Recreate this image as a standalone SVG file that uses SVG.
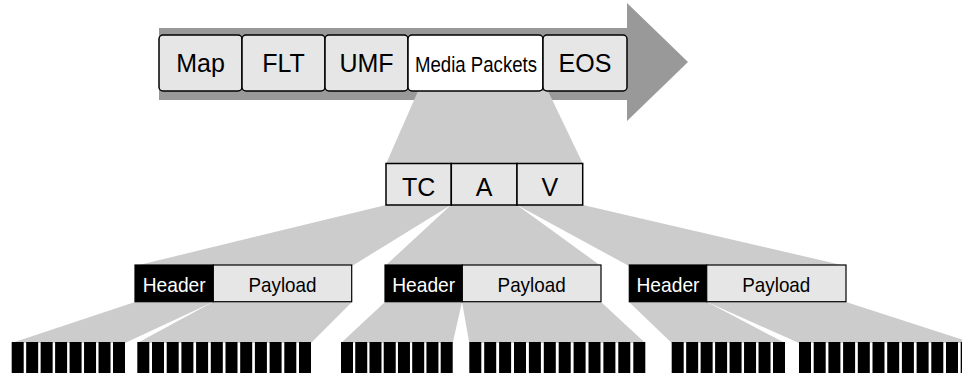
<svg xmlns="http://www.w3.org/2000/svg" width="962" height="373" viewBox="0 0 962 373">
  <style>
    .fan { fill: #cccccc; stroke: none; }
    .arrow { fill: #999999; stroke: none; }
    .seg { fill: #e6e6e6; stroke: #000; stroke-width: 1.5; }
    .segw { fill: #ffffff; stroke: #000; stroke-width: 1.5; }
    .cell { fill: #e6e6e6; stroke: #000; stroke-width: 1.5; }
    .hdr { fill: #000; stroke: #000; stroke-width: 1.2; }
    .pay { fill: #e6e6e6; stroke: #000; stroke-width: 1.2; }
    .bar { fill: #000; }
    text { font-family: "Liberation Sans", Arial, sans-serif; text-anchor: middle; fill: #000; }
    .big { font-size: 25px; }
    .mid { font-size: 21px; }
    .wt { fill: #fff; }
  </style>
  <g id="stream">
    <rect class="arrow" x="159" y="28" width="470" height="72"/>
    <polygon class="arrow" points="627,3 688,62 627,121"/>
  </g>
  <g id="connectors">
    <polygon class="fan" points="418,91 548,91 583,164 386,164"/>
    <polygon class="fan" points="386,205 451,205 352,266 135,266"/>
    <polygon class="fan" points="451,205 517,205 601,266 385,266"/>
    <polygon class="fan" points="517,205 583,205 846,266 629,266"/>
    <polygon class="fan" points="135,302 213,302 125,343 11.7,343"/>
    <polygon class="fan" points="213,302 352,302 311,343 137.3,343"/>
    <polygon class="fan" points="385,302 462,302 452.7,343 341,343"/>
    <polygon class="fan" points="462,302 601,302 645.3,343 469.3,343"/>
    <polygon class="fan" points="629,302 707,302 785,343 671.7,343"/>
    <polygon class="fan" points="707,302 846,302 972.7,343 799,343"/>
  </g>
  <g id="map"><rect class="seg" x="159" y="35" width="83" height="56" rx="4"/><text class="big" x="200.5" y="72">Map</text></g>
  <g id="flt"><rect class="seg" x="242" y="35" width="83" height="56" rx="4"/><text class="big" x="283.5" y="72">FLT</text></g>
  <g id="umf"><rect class="seg" x="325" y="35" width="83" height="56" rx="4"/><text class="big" x="366.5" y="72">UMF</text></g>
  <g id="media"><rect class="segw" x="408" y="35" width="135" height="56" rx="4"/><text x="476" y="71.5" font-size="22" textLength="122" lengthAdjust="spacingAndGlyphs">Media Packets</text></g>
  <g id="eos"><rect class="seg" x="543" y="35" width="84" height="56" rx="4"/><text class="big" x="585" y="72">EOS</text></g>
  <g id="tc"><rect class="cell" x="386" y="163.5" width="65.3" height="41.5"/><text class="big" x="418.6" y="196">TC</text></g>
  <g id="a"><rect class="cell" x="451.3" y="163.5" width="65.7" height="41.5"/><text class="big" x="484.2" y="196">A</text></g>
  <g id="v"><rect class="cell" x="517" y="163.5" width="65.7" height="41.5"/><text class="big" x="549.8" y="196">V</text></g>
  <g id="packet1">
    <rect class="hdr" x="135" y="265" width="78.3" height="36.7"/>
    <rect class="pay" x="213.3" y="265" width="138.4" height="36.7"/>
    <text class="mid wt" x="174.2" y="291.5" textLength="63" lengthAdjust="spacingAndGlyphs">Header</text>
    <text class="mid" x="282.5" y="291.5" textLength="68" lengthAdjust="spacingAndGlyphs">Payload</text>
  </g>
  <g id="packet2">
    <rect class="hdr" x="385" y="265" width="77.3" height="36.7"/>
    <rect class="pay" x="462.3" y="265" width="138.7" height="36.7"/>
    <text class="mid wt" x="423.7" y="291.5" textLength="63" lengthAdjust="spacingAndGlyphs">Header</text>
    <text class="mid" x="531.6" y="291.5" textLength="68" lengthAdjust="spacingAndGlyphs">Payload</text>
  </g>
  <g id="packet3">
    <rect class="hdr" x="629.3" y="265" width="77.4" height="36.7"/>
    <rect class="pay" x="706.7" y="265" width="139.3" height="36.7"/>
    <text class="mid wt" x="668" y="291.5" textLength="63" lengthAdjust="spacingAndGlyphs">Header</text>
    <text class="mid" x="776.3" y="291.5" textLength="68" lengthAdjust="spacingAndGlyphs">Payload</text>
  </g>
  <g id="bars1">
    <rect class="bar" x="11.7" y="342" width="12" height="31"/><rect class="bar" x="26.17" y="342" width="12" height="31"/><rect class="bar" x="40.64" y="342" width="12" height="31"/><rect class="bar" x="55.11" y="342" width="12" height="31"/><rect class="bar" x="69.58" y="342" width="12" height="31"/><rect class="bar" x="84.05" y="342" width="12" height="31"/><rect class="bar" x="98.52" y="342" width="12" height="31"/><rect class="bar" x="113" y="342" width="12" height="31"/>
  </g>
  <g id="bars2">
    <rect class="bar" x="137.3" y="342" width="12" height="31"/><rect class="bar" x="152" y="342" width="12" height="31"/><rect class="bar" x="166.7" y="342" width="12" height="31"/><rect class="bar" x="181.4" y="342" width="12" height="31"/><rect class="bar" x="196.1" y="342" width="12" height="31"/><rect class="bar" x="210.8" y="342" width="12" height="31"/><rect class="bar" x="225.5" y="342" width="12" height="31"/><rect class="bar" x="240.2" y="342" width="12" height="31"/><rect class="bar" x="254.9" y="342" width="12" height="31"/><rect class="bar" x="269.6" y="342" width="12" height="31"/><rect class="bar" x="284.3" y="342" width="12" height="31"/><rect class="bar" x="299" y="342" width="12" height="31"/>
  </g>
  <g id="bars3">
    <rect class="bar" x="341" y="342" width="12" height="31"/><rect class="bar" x="355.24" y="342" width="12" height="31"/><rect class="bar" x="369.48" y="342" width="12" height="31"/><rect class="bar" x="383.72" y="342" width="12" height="31"/><rect class="bar" x="397.96" y="342" width="12" height="31"/><rect class="bar" x="412.2" y="342" width="12" height="31"/><rect class="bar" x="426.44" y="342" width="12" height="31"/><rect class="bar" x="440.7" y="342" width="12" height="31"/>
  </g>
  <g id="bars4">
    <rect class="bar" x="469.3" y="342" width="12" height="31"/><rect class="bar" x="484.2" y="342" width="12" height="31"/><rect class="bar" x="499.1" y="342" width="12" height="31"/><rect class="bar" x="514" y="342" width="12" height="31"/><rect class="bar" x="528.9" y="342" width="12" height="31"/><rect class="bar" x="543.8" y="342" width="12" height="31"/><rect class="bar" x="558.7" y="342" width="12" height="31"/><rect class="bar" x="573.6" y="342" width="12" height="31"/><rect class="bar" x="588.5" y="342" width="12" height="31"/><rect class="bar" x="603.4" y="342" width="12" height="31"/><rect class="bar" x="618.3" y="342" width="12" height="31"/><rect class="bar" x="633.3" y="342" width="12" height="31"/>
  </g>
  <g id="bars5">
    <rect class="bar" x="671.7" y="342" width="12" height="31"/><rect class="bar" x="686.17" y="342" width="12" height="31"/><rect class="bar" x="700.64" y="342" width="12" height="31"/><rect class="bar" x="715.11" y="342" width="12" height="31"/><rect class="bar" x="729.58" y="342" width="12" height="31"/><rect class="bar" x="744.05" y="342" width="12" height="31"/><rect class="bar" x="758.52" y="342" width="12" height="31"/><rect class="bar" x="773" y="342" width="12" height="31"/>
  </g>
  <g id="bars6">
    <rect class="bar" x="799" y="342" width="12" height="31"/><rect class="bar" x="813.7" y="342" width="12" height="31"/><rect class="bar" x="828.4" y="342" width="12" height="31"/><rect class="bar" x="843.1" y="342" width="12" height="31"/><rect class="bar" x="857.8" y="342" width="12" height="31"/><rect class="bar" x="872.5" y="342" width="12" height="31"/><rect class="bar" x="887.2" y="342" width="12" height="31"/><rect class="bar" x="901.9" y="342" width="12" height="31"/><rect class="bar" x="916.6" y="342" width="12" height="31"/><rect class="bar" x="931.3" y="342" width="12" height="31"/><rect class="bar" x="946" y="342" width="12" height="31"/><rect class="bar" x="960.7" y="342" width="12" height="31"/>
  </g>
</svg>
